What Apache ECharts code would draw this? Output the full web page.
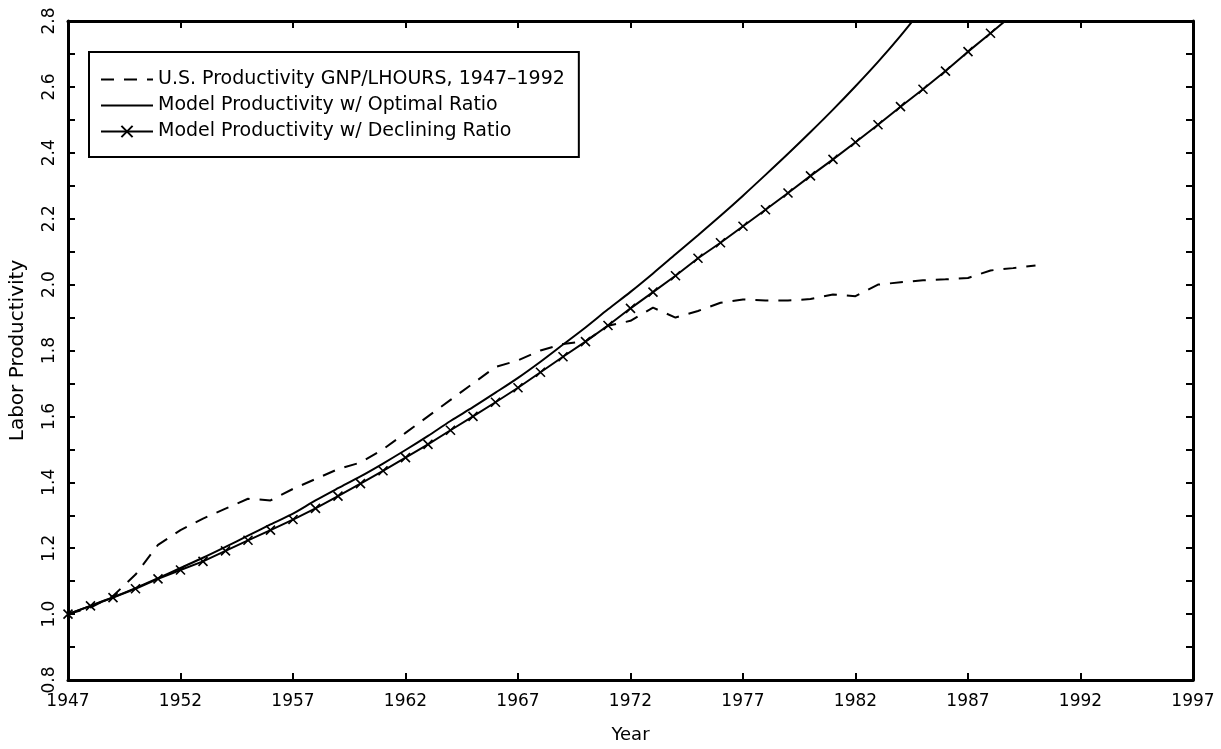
<!DOCTYPE html>
<html>
<head>
<meta charset="utf-8">
<script src="https://cdn.jsdelivr.net/npm/echarts@6/dist/echarts.min.js"></script>
<style>
html,body{margin:0;padding:0;background:#fff;}
#chart{width:1221px;height:749px;}
</style>
</head>
<body>
<div id="chart"></div>
<script>
// Category labels (years on the x axis)
const years = [];
for (let y = 1947; y <= 1997; y++) years.push(String(y));

// U.S. Productivity GNP/LHOURS, 1947-1990 (dashed)
const usProductivity = [1.00,1.02,1.055,1.12,1.21,1.255,1.29,1.32,1.35,1.345,1.38,1.41,1.44,1.46,1.50,1.55,1.60,1.65,1.70,1.75,1.77,1.80,1.82,1.828,1.875,1.89,1.93,1.90,1.92,1.945,1.955,1.952,1.952,1.956,1.97,1.965,2.00,2.007,2.013,2.016,2.02,2.043,2.05,2.058];

// Model Productivity w/ Optimal Ratio, 1947-1986
const optimalRatio = [1.000,1.025,1.051,1.079,1.109,1.140,1.171,1.204,1.238,1.272,1.305,1.345,1.382,1.418,1.457,1.498,1.541,1.586,1.628,1.672,1.717,1.766,1.818,1.870,1.925,1.978,2.034,2.092,2.150,2.209,2.270,2.333,2.397,2.463,2.531,2.602,2.676,2.755,2.840,2.930];

// Model Productivity w/ Declining Ratio, 1947-1990
const decliningRatio = [1.000,1.025,1.050,1.077,1.107,1.134,1.160,1.192,1.224,1.255,1.287,1.321,1.358,1.396,1.435,1.475,1.515,1.558,1.600,1.643,1.687,1.734,1.781,1.827,1.876,1.928,1.977,2.027,2.080,2.127,2.177,2.227,2.278,2.330,2.380,2.432,2.485,2.540,2.593,2.648,2.707,2.763,2.820,2.880];

const seriesNames = [
  'U.S. Productivity GNP/LHOURS, 1947\u20131992',
  'Model Productivity w/ Optimal Ratio',
  'Model Productivity w/ Declining Ratio'
];

const FONT = 'DejaVu Sans';
const chart = echarts.init(document.getElementById('chart'), null, {renderer: 'canvas'});

const axisLineStyle = {show: true, lineStyle: {color: '#000', width: 3}};
const tickStyle = {show: true, inside: true, length: 7, lineStyle: {color: '#000', width: 2}};

chart.setOption({
  animation: false,
  backgroundColor: '#fff',
  grid: {left: 65, right: 28, top: 21, bottom: 68, containLabel: false},
  legend: {
    orient: 'vertical',
    left: 89,
    top: 52,
    padding: [18, 14, 16, 11],
    itemGap: 7,
    itemWidth: 52,
    itemHeight: 14,
    borderColor: '#000',
    borderWidth: 2,
    textStyle: {fontFamily: FONT, fontSize: 19, color: '#000', lineHeight: 18},
    data: [
      {name: seriesNames[0], itemStyle: {opacity: 0}},
      {name: seriesNames[1], itemStyle: {opacity: 0}},
      {name: seriesNames[2]}
    ]
  },
  xAxis: [
    {
      type: 'category',
      data: years,
      boundaryGap: false,
      position: 'bottom',
      name: 'Year',
      nameLocation: 'middle',
      nameGap: 46,
      nameTextStyle: {fontFamily: FONT, fontSize: 18, color: '#000'},
      axisLine: axisLineStyle,
      axisTick: Object.assign({interval: 4}, tickStyle),
      axisLabel: {interval: 4, margin: 13, fontFamily: FONT, fontSize: 17, color: '#000'},
      splitLine: {show: false}
    },
    {
      type: 'category',
      data: years,
      boundaryGap: false,
      position: 'top',
      axisLine: axisLineStyle,
      axisTick: Object.assign({interval: 4}, tickStyle),
      axisLabel: {show: false},
      splitLine: {show: false}
    }
  ],
  yAxis: [
    {
      type: 'value',
      min: 0.8,
      max: 2.8,
      interval: 0.1,
      position: 'left',
      name: 'Labor Productivity',
      nameLocation: 'middle',
      nameGap: 40,
      nameRotate: 90,
      nameTextStyle: {fontFamily: FONT, fontSize: 20, color: '#000'},
      axisLine: axisLineStyle,
      axisTick: tickStyle,
      axisLabel: {
        rotate: 90,
        margin: 10,
        fontFamily: FONT,
        fontSize: 17,
        color: '#000',
        formatter: function (v) {
          const k = Math.round(v * 10);
          return (k % 2 === 0) ? (k / 10).toFixed(1) : '';
        }
      },
      splitLine: {show: false}
    },
    {
      type: 'value',
      min: 0.8,
      max: 2.8,
      interval: 0.1,
      position: 'right',
      axisLine: axisLineStyle,
      axisTick: tickStyle,
      axisLabel: {show: false},
      splitLine: {show: false}
    }
  ],
  series: [
    {
      name: seriesNames[0],
      type: 'line',
      data: usProductivity,
      symbol: 'none',
      clip: true,
      lineStyle: {color: '#000', width: 2, type: [13, 10]},
      itemStyle: {color: '#000'}
    },
    {
      name: seriesNames[1],
      type: 'line',
      data: optimalRatio,
      symbol: 'none',
      smooth: 0.3,
      clip: true,
      lineStyle: {color: '#000', width: 2},
      itemStyle: {color: '#000'}
    },
    {
      name: seriesNames[2],
      type: 'line',
      data: decliningRatio,
      symbol: 'path://M0,0L10,10M10,0L0,10',
      symbolSize: 9,
      showAllSymbol: true,
      clip: true,
      lineStyle: {color: '#000', width: 2},
      itemStyle: {color: '#000', borderColor: '#000', borderWidth: 1.6}
    }
  ]
});
</script>
</body>
</html>
